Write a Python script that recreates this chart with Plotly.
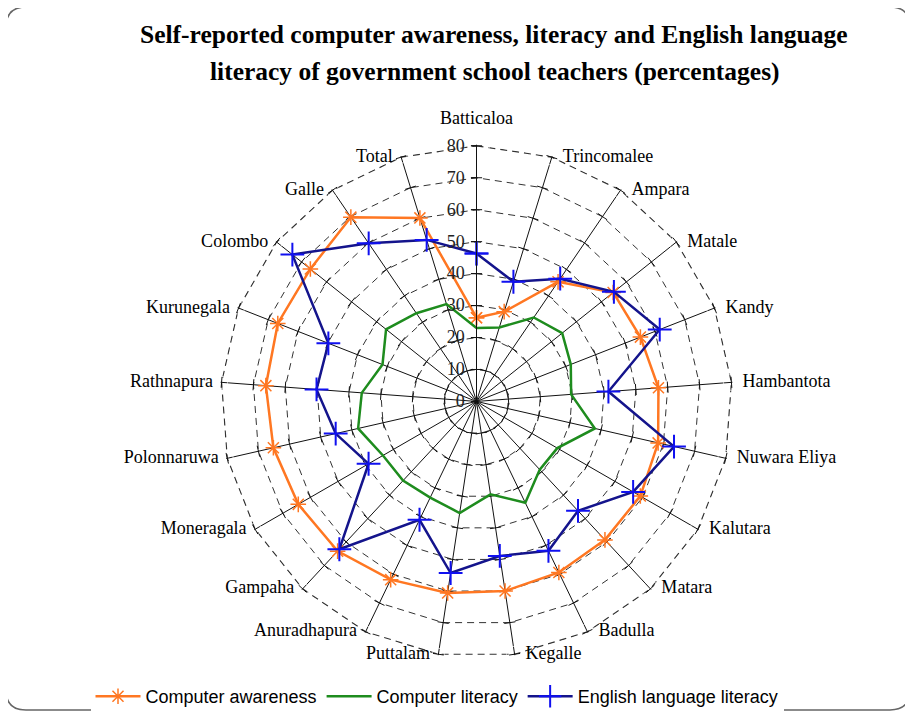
import plotly.graph_objects as go

categories = ["Batticaloa", "Trincomalee", "Ampara", "Matale", "Kandy", "Hambantota",
              "Nuwara Eliya", "Kalutara", "Matara", "Badulla", "Kegalle", "Puttalam",
              "Anuradhapura", "Gampaha", "Moneragala", "Polonnaruwa", "Rathnapura",
              "Kurunegala", "Colombo", "Galle", "Total"]

computer_awareness = [26.2, 29.4, 45.3, 54.7, 55.1, 57.1, 58.3, 59.2, 59.1, 59.4, 60.0,
                      60.6, 61.9, 63.9, 64.4, 65.2, 66.1, 66.8, 66.5, 69.8, 60.1]
computer_literacy = [23.0, 24.2, 31.8, 34.3, 31.7, 29.7, 38.0, 29.2, 29.1, 35.2, 29.4,
                     35.3, 33.4, 33.8, 33.8, 38.0, 36.0, 31.6, 36.2, 33.4, 31.9]
english_literacy = [46.3, 39.2, 46.5, 55.0, 61.6, 41.4, 63.4, 56.6, 46.7, 51.9, 48.9,
                    54.3, 41.1, 63.1, 39.0, 45.2, 50.2, 49.8, 73.7, 59.9, 52.9]

radial_ticks = [0, 10, 20, 30, 40, 50, 60, 70, 80]

title_line1 = "Self-reported computer awareness, literacy and English language"
title_line2 = "literacy of government school teachers (percentages)"

# the page body has an 8px margin: figure is sized/placed to compensate
OFF = 8
W, H = 913 - OFF, 715 - OFF


def px(x):
    return (x - OFF) / W


def py(y):
    return 1 - (y - OFF) / H


def closed(vals):
    return list(vals) + [vals[0]]


fig = go.Figure()

n = len(categories)
angles = [i * 360.0 / n for i in range(n)]
rmax = radial_ticks[-1]

# outer (80) dashed gridline polygon
fig.add_trace(go.Scatterpolar(
    r=[rmax] * (n + 1), theta=closed(categories), mode="lines", showlegend=False,
    hoverinfo="skip", cliponaxis=False,
    line=dict(color="#333333", width=1.2, dash="7px,5px"),
))

# tick marks on every spoke (Excel style)
tick_r, tick_t, tick_a = [], [], []
for c, a in zip(categories, angles):
    for r in radial_ticks[1:]:
        tick_r.append(r)
        tick_t.append(c)
        tick_a.append(a)
fig.add_trace(go.Scatterpolar(
    r=tick_r, theta=tick_t, mode="markers", showlegend=False, hoverinfo="skip",
    cliponaxis=False,
    marker=dict(symbol="line-ew", size=8, angle=tick_a,
                line=dict(color="#111111", width=1)),
))
# dark hub where the spokes meet
fig.add_trace(go.Scatterpolar(
    r=[radial_ticks[0]], theta=[categories[0]], mode="markers", showlegend=False,
    hoverinfo="skip", marker=dict(symbol="circle", size=10, color="black"),
))

# category labels placed Excel-style at the spoke ends
positions, label_sizes = [], []
for a in angles:
    if a == 0:
        positions.append("top center")
        label_sizes.append(26)
    elif a < 180:
        positions.append("middle right")
        label_sizes.append(16)
    else:
        positions.append("middle left")
        label_sizes.append(12)
fig.add_trace(go.Scatterpolar(
    r=[rmax] * n, theta=categories, mode="markers+text", text=categories,
    textposition=positions, cliponaxis=False, showlegend=False, hoverinfo="skip",
    textfont=dict(family="Liberation Serif", size=18, color="black"),
    marker=dict(size=label_sizes, color="rgba(0,0,0,0)"),
))

fig.add_trace(go.Scatterpolar(
    r=closed(computer_awareness), theta=closed(categories), name="Computer awareness",
    mode="lines+markers",
    line=dict(color="#FF7722", width=2.5),
    marker=dict(symbol="asterisk-open", size=13, color="#FF7722",
                line=dict(color="#FF7722", width=1.5)),
))
fig.add_trace(go.Scatterpolar(
    r=closed(computer_literacy), theta=closed(categories), name="Computer literacy",
    mode="lines",
    line=dict(color="#1E8C1E", width=2.5),
))
fig.add_trace(go.Scatterpolar(
    r=closed(english_literacy), theta=closed(categories), name="English language literacy",
    mode="lines+markers",
    line=dict(color="#14148C", width=2.5),
    marker=dict(symbol="cross-thin-open", size=17, color="#1010F0",
                line=dict(color="#1010F0", width=2)),
))

cx, cy = 476.5, 402.0
R = 256.0 * 80.3 / 80.0
fig.update_layout(
    width=W, height=H,
    margin=dict(l=0, r=0, t=0, b=0),
    paper_bgcolor="white",
    plot_bgcolor="white",
    showlegend=True,
    legend=dict(orientation="h", x=px(437), y=py(697), xanchor="center", yanchor="middle",
                font=dict(family="Liberation Sans", size=18, color="black"),
                itemwidth=45, tracegroupgap=0),
    polar=dict(
        domain=dict(x=[px(cx - R), px(cx + R)], y=[py(cy + R), py(cy - R)]),
        bgcolor="white",
        gridshape="linear",
        radialaxis=dict(
            range=[0, 80.3], tickvals=radial_ticks, angle=90, side="counterclockwise",
            tickangle=90,
            showline=True, linecolor="#111111", linewidth=1,
            ticks="outside", ticklen=5, tickcolor="#111111",
            tickfont=dict(family="Liberation Serif", size=18, color="#222222"),
            gridcolor="#333333", griddash="7px,5px", gridwidth=1.2,
        ),
        angularaxis=dict(
            direction="clockwise", rotation=90,
            categoryorder="array", categoryarray=categories,
            showline=False, showticklabels=False, ticks="",
            gridcolor="#111111", gridwidth=1,
        ),
    ),
    annotations=[
        dict(text="<b>" + title_line1 + "</b>", x=px(493.5), y=py(35), xref="paper", yref="paper",
             showarrow=False, xanchor="center", yanchor="middle",
             font=dict(family="Liberation Serif", size=25.5, color="black")),
        dict(text="<b>" + title_line2 + "</b>", x=px(495), y=py(72), xref="paper", yref="paper",
             showarrow=False, xanchor="center", yanchor="middle",
             font=dict(family="Liberation Serif", size=25.5, color="black")),
    ],
)

# rounded frame around the chart
x0, y0, x1, y1, rr = 6, 7, 910, 711, 20
path = (f"M {px(x0 + rr)},{py(y0)} L {px(x1 - rr)},{py(y0)} Q {px(x1)},{py(y0)} {px(x1)},{py(y0 + rr)} "
        f"L {px(x1)},{py(y1 - rr)} Q {px(x1)},{py(y1)} {px(x1 - rr)},{py(y1)} "
        f"L {px(x0 + rr)},{py(y1)} Q {px(x0)},{py(y1)} {px(x0)},{py(y1 - rr)} "
        f"L {px(x0)},{py(y0 + rr)} Q {px(x0)},{py(y0)} {px(x0 + rr)},{py(y0)} Z")
fig.add_shape(type="path", path=path, xref="paper", yref="paper",
              line=dict(color="#666666", width=1.5), layer="above")

fig.write_html("out.html")
